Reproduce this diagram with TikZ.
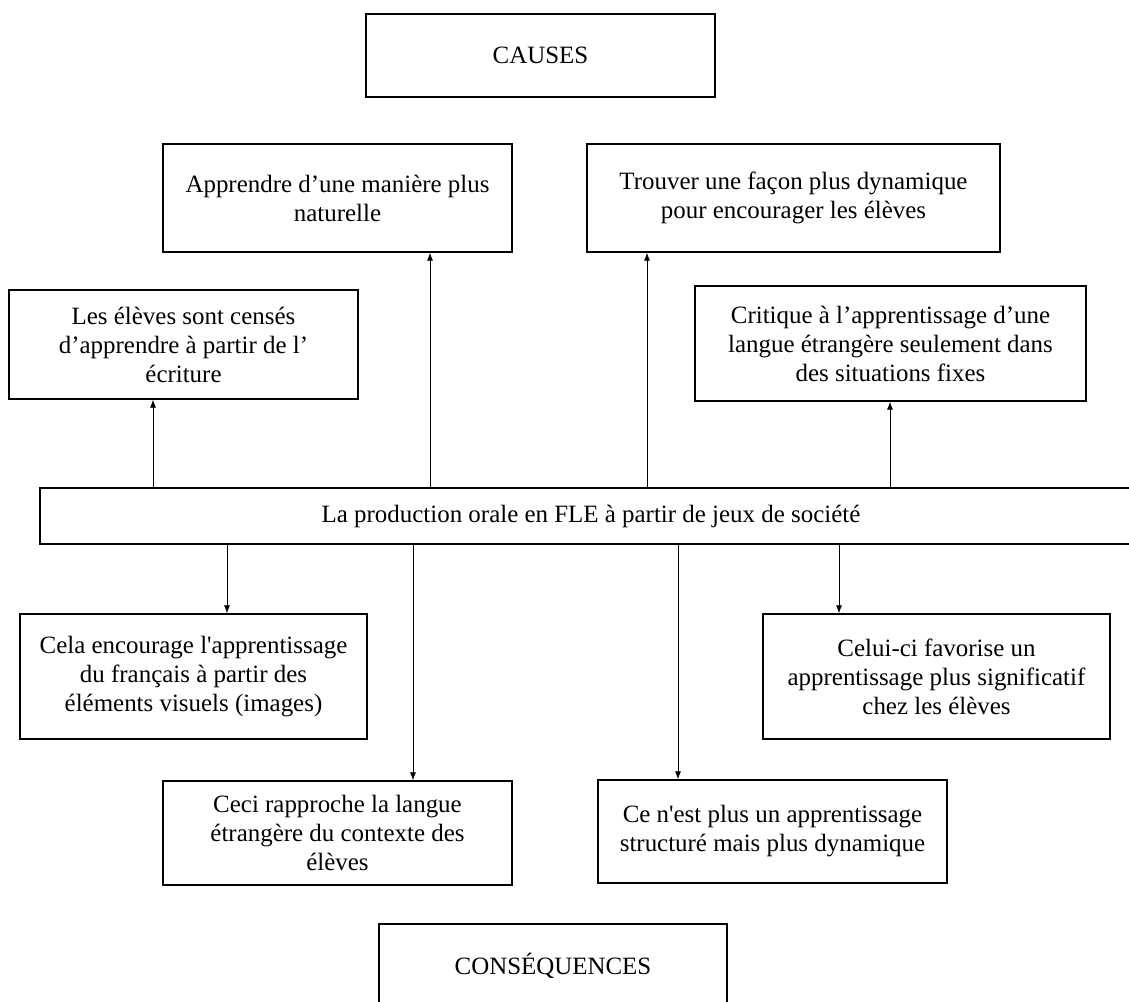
\documentclass[tikz,border=0pt]{standalone}
\usepackage{fontspec}
\setmainfont{Liberation Serif}
\usepackage{tikz}
\usetikzlibrary{arrows.meta, positioning}

\begin{document}
\begin{tikzpicture}[x=0.75pt, y=-0.75pt,
    box/.style={draw, line width=1pt, fill=white, align=center, inner sep=0pt,
        font=\fontsize{18.7}{21.75}\selectfont},
    fleche/.style={-{Latex[length=6pt,width=4.5pt]}, line width=0.6pt}]
    \useasboundingbox (0,0) rectangle (1129,1001);

    % Titles
    \node[box, minimum width=261.75pt, minimum height=62.25pt] (causes) at (540.5,55.5) {CAUSES};
    \node[box, minimum width=261pt, minimum height=63pt] (conseq) at (553,966) {CONSÉQUENCES};

    % Causes
    \node[box, minimum width=261.75pt, minimum height=81pt] (naturel) at (337.5,198)
        {Apprendre d’une manière plus\\naturelle};
    \node[box, minimum width=309.75pt, minimum height=81pt] (dynamique) at (793.5,198)
        {Trouver une façon plus dynamique\\pour encourager les élèves};
    \node[box, minimum width=261.75pt, minimum height=81.75pt] (ecriture) at (183.5,344.5)
        {Les élèves sont censés\\d’apprendre à partir de l’\\écriture};
    \node[box, minimum width=293.25pt, minimum height=86.25pt] (fixe) at (890.5,343.5)
        {Critique à l’apprentissage d’une\\langue étrangère seulement dans\\des situations fixes};

    % Central theme
    \node[box, minimum width=826.5pt, minimum height=42pt] (theme) at (591,516)
        {La production orale en FLE à partir de jeux de société};

    % Consequences
    \node[box, minimum width=260.25pt, minimum height=93.75pt] (visuel) at (193.5,676.5)
        {Cela encourage l\textquotesingle apprentissage\\du français à partir des\\éléments visuels (images)};
    \node[box, minimum width=260.25pt, minimum height=93.75pt] (sens) at (936.5,676.5)
        {Celui-ci favorise un\\apprentissage plus significatif\\chez les élèves};
    \node[box, minimum width=261.75pt, minimum height=78pt] (contexte) at (337.5,833)
        {Ceci rapproche la langue\\étrangère du contexte des\\élèves};
    \node[box, minimum width=261.75pt, minimum height=77.25pt] (structure) at (772.5,831.5)
        {Ce n\textquotesingle est plus un apprentissage\\structuré mais plus dynamique};

    % Arrow columns
    \coordinate (c1) at (153,0);
    \coordinate (c2) at (430,0);
    \coordinate (c3) at (647,0);
    \coordinate (c4) at (890,0);
    \coordinate (d1) at (227,0);
    \coordinate (d2) at (413,0);
    \coordinate (d3) at (678,0);
    \coordinate (d4) at (839,0);

    % Arrows up to the causes
    \draw[fleche] (theme.north -| c1) -- (ecriture.south -| c1);
    \draw[fleche] (theme.north -| c2) -- (naturel.south -| c2);
    \draw[fleche] (theme.north -| c3) -- (dynamique.south -| c3);
    \draw[fleche] (theme.north -| c4) -- (fixe.south -| c4);

    % Arrows down to the consequences
    \draw[fleche] (theme.south -| d1) -- (visuel.north -| d1);
    \draw[fleche] (theme.south -| d2) -- (contexte.north -| d2);
    \draw[fleche] (theme.south -| d3) -- (structure.north -| d3);
    \draw[fleche] (theme.south -| d4) -- (sens.north -| d4);
\end{tikzpicture}
\end{document}
